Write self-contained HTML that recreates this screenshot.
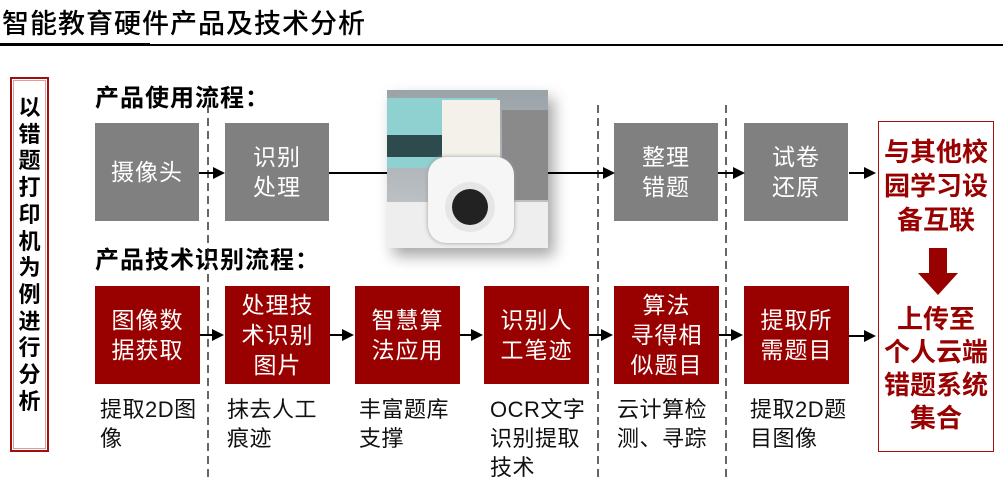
<!DOCTYPE html>
<html><head><meta charset="utf-8"><style>
*{margin:0;padding:0;box-sizing:border-box}
body{width:1003px;height:477px;background:#fff;position:relative;overflow:hidden;font-family:"Liberation Sans","Noto Sans CJK SC",sans-serif}
.a{position:absolute}
.t{font-size:27px;color:#000;left:2px;top:2px;font-weight:500;letter-spacing:1px}
.h{font-size:24px;font-weight:bold;color:#000;letter-spacing:1px}
.box{position:absolute;display:flex;align-items:center;justify-content:center;text-align:center;color:#fff;font-size:23px;line-height:30px;letter-spacing:1px}
.g{background:#808080;top:123px;height:98px;width:104px}
.r{background:#990000;top:286px;height:98px;width:105px}
.cap{position:absolute;top:395px;font-size:22px;line-height:29px;color:#111;width:120px;letter-spacing:0.5px}
.ln{position:absolute;height:1.5px;background:#000}
.ah{position:absolute;width:0;height:0;border-top:6px solid transparent;border-bottom:6px solid transparent;border-left:12px solid #000}
</style></head><body>
<div class="a t">智能教育硬件产品及技术分析</div>
<div class="a" style="left:0;top:43px;width:150px;height:3px;background:#000"></div>
<div class="a" style="left:150px;top:44px;width:853px;height:2px;background:#000"></div>

<div class="a" style="left:10px;top:77px;width:39px;height:375px;border:2px solid #a01010;outline:1px solid #d8a0a0;outline-offset:-4px"></div>
<div class="a" style="left:10px;top:95px;width:39px;text-align:center;font-size:22px;font-weight:bold;line-height:26.7px">以<br>错<br>题<br>打<br>印<br>机<br>为<br>例<br>进<br>行<br>分<br>析</div>

<div class="a h" style="left:95px;top:78px">产品使用流程：</div>
<div class="a h" style="left:95px;top:240px">产品技术识别流程：</div>

<svg class="a" style="left:0;top:0" width="1003" height="477">
<g stroke="#333" stroke-width="1.5" stroke-dasharray="8,5">
<line x1="208" y1="105" x2="208" y2="477"/>
<line x1="598" y1="105" x2="598" y2="477"/>
<line x1="726" y1="105" x2="726" y2="477"/>
</g></svg>

<div class="box g" style="left:95px">摄像头</div>
<div class="box g" style="left:225px">识别<br>处理</div>
<div class="box g" style="left:614px">整理<br>错题</div>
<div class="box g" style="left:744px">试卷<br>还原</div>

<div class="ln" style="left:199px;top:172px;width:16px"></div><div class="ah" style="left:213px;top:167px"></div>
<div class="ln" style="left:329px;top:172px;width:60px"></div>
<div class="ln" style="left:548px;top:172px;width:56px"></div><div class="ah" style="left:603px;top:167px"></div>
<div class="ln" style="left:718px;top:172px;width:16px"></div><div class="ah" style="left:733px;top:167px"></div>
<div class="ln" style="left:849px;top:172px;width:17px"></div><div class="ah" style="left:864px;top:167px"></div>

<div class="a" style="left:387px;top:90px;width:161px;height:158px;overflow:hidden;box-shadow:6px 8px 14px rgba(0,0,0,0.35);background:#b9bec2">
 <div class="a" style="left:0;top:0;width:161px;height:158px;background:linear-gradient(180deg,#9aa3a8,#c8ccce)"></div>
 <div class="a" style="left:0;top:8px;width:110px;height:70px;background:#8fd0d0"></div>
 <div class="a" style="left:0;top:45px;width:60px;height:22px;background:#2d4a4c"></div>
 <div class="a" style="left:115px;top:20px;width:46px;height:90px;background:#8a8a8a"></div>
 <div class="a" style="left:0;top:112px;width:161px;height:46px;background:#eeeeee"></div>
 <div class="a" style="left:55px;top:10px;width:58px;height:60px;background:#f4f1ea"></div>
 <div class="a" style="left:41px;top:67px;width:86px;height:86px;background:#f6f6f6;border-radius:18px;box-shadow:0 0 4px #999"></div>
 <div class="a" style="left:58px;top:92px;width:50px;height:50px;background:#e6e6e6;border-radius:50%"></div>
 <div class="a" style="left:65px;top:99px;width:36px;height:36px;background:#222;border-radius:50%"></div>
</div>

<div class="box r" style="left:95px">图像数<br>据获取</div>
<div class="box r" style="left:225px">处理技<br>术识别<br>图片</div>
<div class="box r" style="left:355px">智慧算<br>法应用</div>
<div class="box r" style="left:484px">识别人<br>工笔迹</div>
<div class="box r" style="left:614px">算法<br>寻得相<br>似题目</div>
<div class="box r" style="left:744px">提取所<br>需题目</div>

<div class="ln" style="left:200px;top:334px;width:14px"></div><div class="ah" style="left:212px;top:329px"></div>
<div class="ln" style="left:330px;top:334px;width:14px"></div><div class="ah" style="left:342px;top:329px"></div>
<div class="ln" style="left:460px;top:334px;width:13px"></div><div class="ah" style="left:471px;top:329px"></div>
<div class="ln" style="left:589px;top:334px;width:14px"></div><div class="ah" style="left:601px;top:329px"></div>
<div class="ln" style="left:719px;top:334px;width:14px"></div><div class="ah" style="left:731px;top:329px"></div>
<div class="ln" style="left:849px;top:335px;width:17px"></div><div class="ah" style="left:864px;top:330px"></div>

<div class="cap" style="left:100px">提取2D图<br>像</div>
<div class="cap" style="left:227px">抹去人工<br>痕迹</div>
<div class="cap" style="left:359px">丰富题库<br>支撑</div>
<div class="cap" style="left:490px">OCR文字<br>识别提取<br>技术</div>
<div class="cap" style="left:617px">云计算检<br>测、寻踪</div>
<div class="cap" style="left:750px">提取2D题<br>目图像</div>

<div class="a" style="left:878px;top:121px;width:116px;height:331px;border:1.5px solid #a01010"></div>
<div class="a" style="left:876px;top:135px;width:120px;text-align:center;color:#990000;font-weight:bold;font-size:26px;line-height:34px">与其他校<br>园学习设<br>备互联</div>
<div class="a" style="left:929px;top:248px;width:18px;height:25px;background:#990000"></div>
<div class="a" style="left:918px;top:273px;width:0;height:0;border-left:20px solid transparent;border-right:20px solid transparent;border-top:22px solid #990000"></div>
<div class="a" style="left:876px;top:303px;width:120px;text-align:center;color:#990000;font-weight:bold;font-size:26px;line-height:33px">上传至<br>个人云端<br>错题系统<br>集合</div>
</body></html>
